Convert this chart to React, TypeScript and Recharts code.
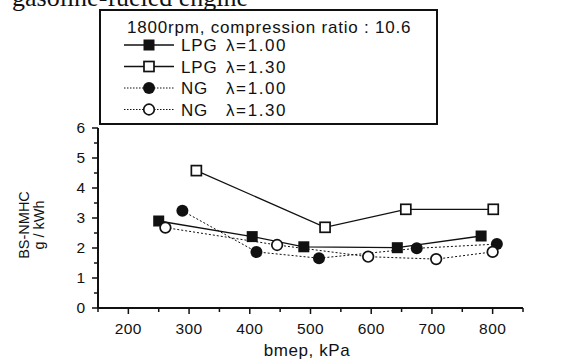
import { Line, LineChart, XAxis, YAxis } from 'recharts'

const lpg100X = [250, 404, 489, 643, 781]
const lpg100Y = [2.9, 2.38, 2.04, 2.01, 2.4]
const lpg130X = [312, 524, 657, 801]
const lpg130Y = [4.58, 2.69, 3.29, 3.29]
const ng100X = [289, 411, 514, 675, 807]
const ng100Y = [3.24, 1.87, 1.66, 1.99, 2.13]
const ng130X = [261, 445, 595, 707, 800]
const ng130Y = [2.68, 2.1, 1.71, 1.63, 1.87]

const xTicks = [150, 200, 250, 300, 350, 400, 450, 500, 550, 600, 650, 700, 750, 800, 850]
const xLabels = [200, 300, 400, 500, 600, 700, 800]
const yTicks = [0, 0.5, 1, 1.5, 2, 2.5, 3, 3.5, 4, 4.5, 5, 5.5, 6]
const yLabels = [0, 1, 2, 3, 4, 5, 6]

const legendTitle = '1800rpm, compression ratio : 10.6'
const seriesNames = ['LPG', 'LPG', 'NG', 'NG']
const lambdas = ['λ=1.00', 'λ=1.30', 'λ=1.00', 'λ=1.30']

const toPoints = (xs: number[], ys: number[]) => xs.map((x, i) => ({ x, y: ys[i] }))

const font = 'Liberation Sans, Arial, sans-serif'
const ink = '#111'

type Shape = 'fsq' | 'osq' | 'fci' | 'oci'
const shapes: Shape[] = ['fsq', 'osq', 'fci', 'oci']

function Marker({ cx, cy, shape }: { cx: number; cy: number; shape: Shape }) {
  if (shape === 'fsq') return <rect x={cx - 5.5} y={cy - 5.5} width={11} height={11} fill={ink} />
  if (shape === 'osq')
    return <rect x={cx - 5} y={cy - 5} width={10} height={10} fill="#fff" stroke={ink} strokeWidth={1.7} />
  if (shape === 'fci') return <circle cx={cx} cy={cy} r={6} fill={ink} />
  return <circle cx={cx} cy={cy} r={5.3} fill="#fff" stroke={ink} strokeWidth={1.7} />
}

const dotFor = (shape: Shape) => (props: any) => (
  <Marker key={`${shape}-${props.index}`} cx={props.cx} cy={props.cy} shape={shape} />
)

function XTick({ x, y, payload }: any) {
  const major = xLabels.includes(payload.value)
  return (
    <g>
      <line x1={x} x2={x} y1={y} y2={y + (major ? 6 : 4)} stroke={ink} strokeWidth={1.5} />
      {major && (
        <text x={x} y={y + 26} textAnchor="middle" fontFamily={font} fontSize={15.5} letterSpacing={0.4} fill={ink}>
          {payload.value}
        </text>
      )}
    </g>
  )
}

function YTick({ x, y, payload }: any) {
  const major = yLabels.includes(payload.value)
  return (
    <g>
      <line x1={x} x2={x - (major ? 6 : 4)} y1={y} y2={y} stroke={ink} strokeWidth={1.5} />
      {major && (
        <text x={x - 13} y={y + 5} textAnchor="end" fontFamily={font} fontSize={15.5} fill={ink}>
          {payload.value}
        </text>
      )}
    </g>
  )
}

function LegendBox() {
  return (
    <svg width={339} height={116} style={{ display: 'block' }}>
      <rect x={1} y={1} width={337} height={114} fill="#fff" stroke={ink} strokeWidth={2} />
      <text x={28} y={24} fontFamily={font} fontSize={17} letterSpacing={0.8} fill={ink}>
        {legendTitle}
      </text>
      {shapes.map((s, i) => {
        const cy = 36 + i * 21.5
        const dashed = s === 'fci' || s === 'oci'
        return (
          <g key={s}>
            <line
              x1={25}
              x2={75}
              y1={cy}
              y2={cy}
              stroke={ink}
              strokeWidth={dashed ? 1 : 1.3}
              strokeDasharray={dashed ? '1.5 1.5' : undefined}
            />
            <Marker cx={50} cy={cy} shape={s} />
            <text x={82} y={cy + 6} fontFamily={font} fontSize={17} letterSpacing={0.8} fill={ink}>
              {seriesNames[i]}
            </text>
            <text x={127} y={cy + 6} fontFamily={font} fontSize={17} letterSpacing={1.6} fill={ink}>
              {lambdas[i]}
            </text>
          </g>
        )
      })}
    </svg>
  )
}

export default function App() {
  return (
    <div style={{ position: 'fixed', top: 0, left: 0, width: 568, height: 360, background: '#fff', overflow: 'hidden' }}>
      <div
        style={{
          position: 'absolute',
          top: -17,
          left: 12,
          fontFamily: 'Liberation Serif, Times New Roman, serif',
          fontSize: 26,
          color: ink,
          whiteSpace: 'nowrap',
        }}
      >
        gasoline-fueled engine
      </div>
      <LineChart width={568} height={360} margin={{ top: 128, right: 45, bottom: 12, left: 38 }}>
        <XAxis
          type="number"
          dataKey="x"
          domain={[150, 850]}
          ticks={xTicks}
          interval={0}
          tick={<XTick />}
          tickLine={false}
          tickSize={0}
          tickMargin={0}
          axisLine={{ stroke: ink, strokeWidth: 2 }}
          height={40}
          allowDuplicatedCategory={false}
        />
        <YAxis
          type="number"
          dataKey="y"
          domain={[0, 6]}
          ticks={yTicks}
          interval={0}
          tick={<YTick />}
          tickLine={false}
          tickSize={0}
          tickMargin={0}
          axisLine={{ stroke: ink, strokeWidth: 2 }}
          width={60}
        />
        <Line
          data={toPoints(lpg100X, lpg100Y)}
          dataKey="y"
          stroke={ink}
          strokeWidth={1.3}
          dot={dotFor('fsq')}
          isAnimationActive={false}
        />
        <Line
          data={toPoints(lpg130X, lpg130Y)}
          dataKey="y"
          stroke={ink}
          strokeWidth={1.3}
          dot={dotFor('osq')}
          isAnimationActive={false}
        />
        <Line
          data={toPoints(ng100X, ng100Y)}
          dataKey="y"
          stroke={ink}
          strokeWidth={1}
          strokeDasharray="2 2"
          dot={dotFor('fci')}
          isAnimationActive={false}
        />
        <Line
          data={toPoints(ng130X, ng130Y)}
          dataKey="y"
          stroke={ink}
          strokeWidth={1}
          strokeDasharray="2 2"
          dot={dotFor('oci')}
          isAnimationActive={false}
        />
      </LineChart>
      <div style={{ position: 'absolute', top: 9, left: 99 }}>
        <LegendBox />
      </div>
      <div
        style={{
          position: 'absolute',
          left: 0,
          top: 180,
          width: 64,
          height: 90,
          display: 'flex',
          alignItems: 'center',
          justifyContent: 'center',
        }}
      >
        <div
          style={{
            transform: 'rotate(-90deg)',
            fontFamily: font,
            fontSize: 14.5,
            color: ink,
            textAlign: 'center',
            lineHeight: '15px',
            whiteSpace: 'nowrap',
          }}
        >
          BS-NMHC
          <br />g / kWh
        </div>
      </div>
      <div
        style={{
          position: 'absolute',
          left: 0,
          width: 614,
          top: 341,
          textAlign: 'center',
          fontFamily: font,
          fontSize: 17,
          letterSpacing: 0.6,
          color: ink,
        }}
      >
        bmep, kPa
      </div>
    </div>
  )
}
